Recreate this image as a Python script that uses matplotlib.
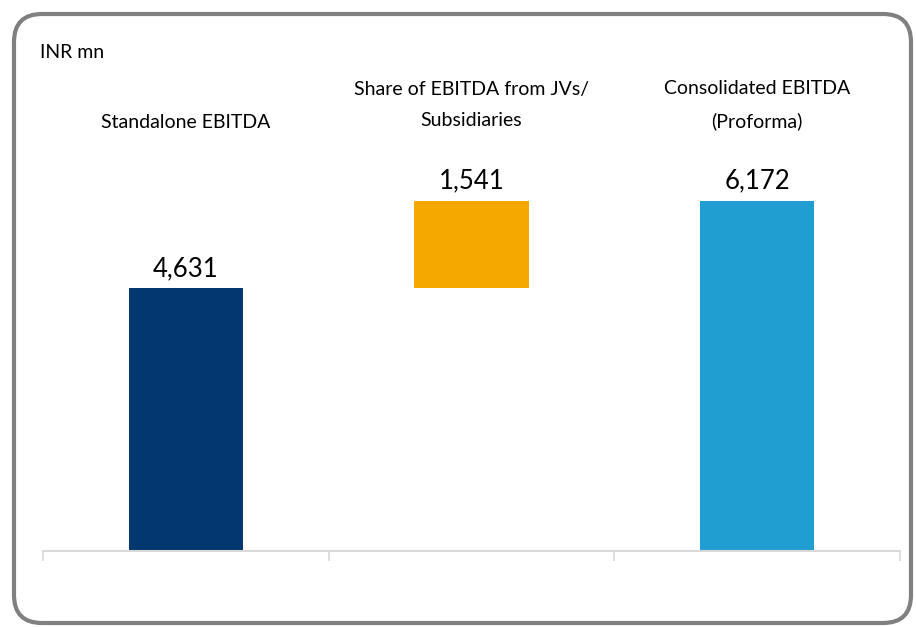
import matplotlib
matplotlib.use("Agg")
import matplotlib.pyplot as plt
from matplotlib.patches import FancyBboxPatch
from matplotlib.transforms import IdentityTransform, blended_transform_factory

# data
categories = ["Standalone EBITDA", "Share of EBITDA from JVs/\nSubsidiaries",
              "Consolidated EBITDA\n(Proforma)"]
values = [4631, 1541, 6172]
bottoms = [0, 4631, 0]
colors = ["#00386F", "#F5A800", "#219ED1"]
unit_label = "INR mn"

plt.rcParams["font.family"] = ["Lato", "DejaVu Sans"]

W, H, DPI = 916, 627, 100
fig = plt.figure(figsize=(W / DPI, H / DPI), dpi=DPI)

# rounded grey frame drawn in pixel space
frame = FancyBboxPatch((14, 4), 897, 609, boxstyle="round,pad=0,rounding_size=28",
                       transform=IdentityTransform(), facecolor="none",
                       edgecolor="#808080", linewidth=3.0, zorder=5)
fig.patches.append(frame)

ax = fig.add_axes([43 / W, (H - 551) / H, 857 / W, 511 / H])
ax.patch.set_alpha(0)
x = list(range(len(values)))
ax.bar(x, values, bottom=bottoms, width=0.4, color=colors, zorder=2)
ax.set_xlim(-0.5, 2.5)
ax.set_ylim(0, 9000)

for s in ["top", "right", "left"]:
    ax.spines[s].set_visible(False)
ax.spines["bottom"].set_color("#D9D9D9")
ax.spines["bottom"].set_linewidth(1.5)
ax.set_yticks([])
ax.set_xticks([-0.5, 0.5, 1.5, 2.5])
ax.set_xticklabels([])
ax.tick_params(axis="x", length=7, width=1.2, color="#D9D9D9", direction="out")

# value labels
for xi, v, b in zip(x, values, bottoms):
    ax.annotate(f"{v:,}", (xi, b + v), xytext=(0, 5), textcoords="offset points",
                ha="center", va="bottom", fontsize=18.5, color="black")

# category labels above the bars
trans = blended_transform_factory(ax.transData, fig.transFigure)
label_y = [1 - 122 / H, 1 - 105 / H, 1 - 105 / H]
for xi, cat, ly in zip(x, categories, label_y):
    ax.text(xi, ly, cat, transform=trans, ha="center", va="center",
            fontsize=14, linespacing=2.0, color="black")

fig.text(40 / W, 1 - 52 / H, unit_label, ha="left", va="center", fontsize=14)

fig.savefig("out.png", dpi=DPI)
